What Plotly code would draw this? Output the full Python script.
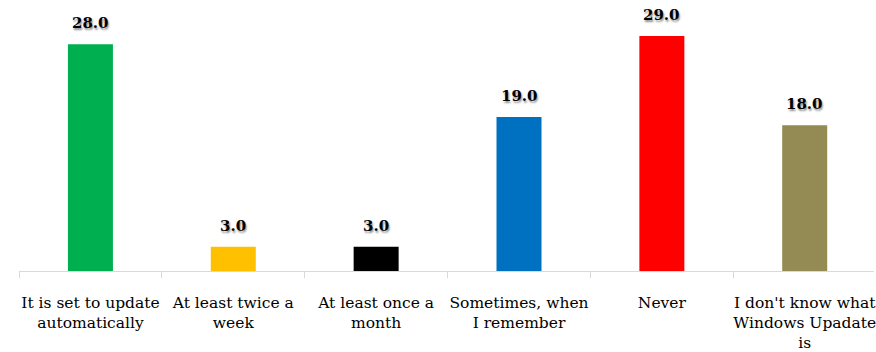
import plotly.graph_objects as go

categories = [
    "It is set to update<br>automatically",
    "At least twice a<br>week",
    "At least once a<br>month",
    "Sometimes, when<br>I remember",
    "Never",
    "I don't know what<br>Windows Upadate<br>is",
]
values = [28.0, 3.0, 3.0, 19.0, 29.0, 18.0]
colors = ["#00B050", "#FFC000", "#000000", "#0070C0", "#FF0000", "#948A54"]

fig = go.Figure()
fig.add_trace(go.Bar(
    x=categories, y=values, marker=dict(color=colors, line=dict(width=0)),
    width=0.315, hoverinfo="skip",
))

for c, v in zip(categories, values):
    fig.add_annotation(
        x=c, y=v, text=f"<b>{v:.1f}</b>", showarrow=False,
        yanchor="bottom", yshift=10,
        font=dict(family="DejaVu Serif", size=15, color="#000000",
                  shadow="1px 2px 2px rgba(0,0,0,0.45)"),
    )

fig.update_layout(
    width=876, height=352,
    margin=dict(l=19, r=0, t=28, b=80),
    plot_bgcolor="white", paper_bgcolor="white",
    showlegend=False,
    font=dict(family="DejaVu Serif", size=15.5, color="#000000"),
)
fig.update_xaxes(
    range=[-0.5, 5.485],
    showline=True, linecolor="#d9d9d9", linewidth=1,
    ticks="outside", tickson="boundaries", ticklen=6, tickcolor="#d9d9d9",
    ticklabelstandoff=17,
    tickfont=dict(family="DejaVu Serif", size=15.5, color="#000000"),
    showgrid=False, fixedrange=True, tickangle=0,
)
fig.update_yaxes(
    range=[0, 30], visible=False, showgrid=False, zeroline=False, fixedrange=True,
)

fig.write_html("out.html", config={"displayModeBar": False})
